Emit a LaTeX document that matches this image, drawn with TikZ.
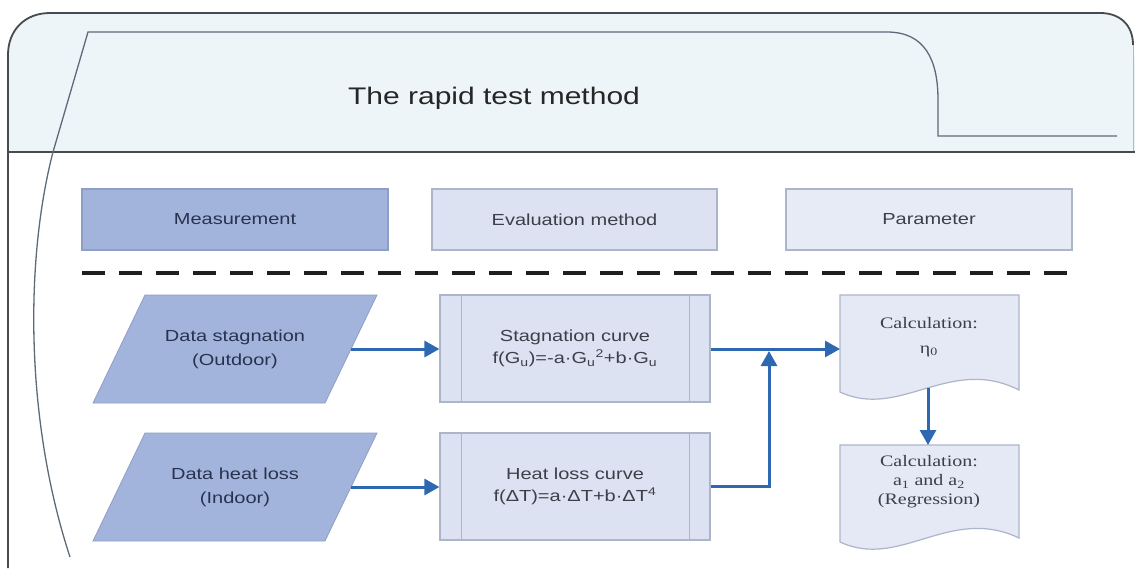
\documentclass[tikz,border=0pt]{standalone}
\usepackage{fontspec}
\setmainfont{Liberation Sans}
\newfontfamily\seriff{Liberation Serif}
\usepackage{graphicx}
\usetikzlibrary{arrows.meta}
\definecolor{hdr}{HTML}{EDF5F9}
\definecolor{framec}{HTML}{464B50}
\definecolor{tabc}{HTML}{5D6A78}
\definecolor{darkfill}{HTML}{A3B4DC}
\definecolor{darkborder}{HTML}{8E9EC6}
\definecolor{evalfill}{HTML}{DDE2F2}
\definecolor{evalborder}{HTML}{ADB5C9}
\definecolor{parfill}{HTML}{E7EBF6}
\definecolor{docfill}{HTML}{E4E9F5}
\definecolor{arrowc}{HTML}{2D68B0}
\definecolor{navytext}{HTML}{27324F}
\definecolor{graytext}{HTML}{3C3F48}
\newcommand{\hs}[1]{\scalebox{1.25}[1]{#1}}
\begin{document}
\begin{tikzpicture}[x=1pt,y=-1pt,
  frame/.style={draw=framec, line width=1.8pt},
  tabline/.style={draw=tabc, line width=1.3pt},
  legend/.style={rectangle, inner sep=0pt, minimum height=61pt, line width=1.2pt, font=\fontsize{16}{20}\selectfont},
  meas/.style={legend, fill=darkfill, draw=darkborder, text=navytext, minimum width=306pt},
  evalbox/.style={legend, fill=evalfill, draw=evalborder, text=graytext, minimum width=285pt},
  parbox/.style={legend, fill=parfill, draw=evalborder, text=graytext, minimum width=286pt},
  datashape/.style={fill=darkfill, draw=darkborder, line width=0.8pt},
  datatext/.style={inner sep=0pt, text=navytext, font=\fontsize{16}{24}\selectfont},
  procbox/.style={rectangle, inner sep=0pt, fill=evalfill, draw=evalborder, line width=1.2pt, minimum width=270pt, minimum height=107pt, text=graytext, font=\fontsize{16}{22}\selectfont},
  docshape/.style={fill=docfill, draw=evalborder, line width=1.2pt},
  doctext/.style={inner sep=0pt, text=graytext},
  arr/.style={draw=arrowc, line width=3pt, -{Triangle[length=15pt,width=16pt]}}
]
\useasboundingbox (0,0) rectangle (1135,568);
\fill[white] (0,0) rectangle (1135,568);
% header
\fill[hdr] (8,152) -- (8,55) .. controls (8,30) and (25,13) .. (50,13) -- (1100,13) .. controls (1120,13) and (1133,25) .. (1133,45) -- (1135,60) -- (1135,152) -- cycle;
\draw[frame] (8,568) -- (8,55) .. controls (8,30) and (25,13) .. (50,13) -- (1100,13) .. controls (1120,13) and (1133,25) .. (1133,45);
\draw[framec!40, line width=1pt] (1133,45) -- (1133,152);
\draw[frame] (8,152) -- (1135,152);
\draw[tabline] (1117,136) -- (938,136) -- (938,100) .. controls (938,60) and (925,32) .. (887,32) -- (88,32) -- (53,152) .. controls (25,260) and (25,420) .. (70,557);
\node[inner sep=0pt, text=black!85, font=\fontsize{24}{28}\selectfont] (title) at (494,98) {\hs{The rapid test method}};
% legend
\node[meas] (m) at (235,219.5) {\hs{Measurement}};
\node[evalbox] (e) at (574.5,219.5) {\hs{Evaluation method}};
\node[parbox] (pp) at (929,219.5) {\hs{Parameter}};
\draw[black!88, line width=3.2pt, dash pattern=on 23pt off 14pt] (82,273) -- (1078,273);
% data parallelograms
\draw[datashape] (145,295) -- (377,295) -- (325,403) -- (93,403) -- cycle;
\node[datatext] (p1) at (235,349) {\hs{\begin{tabular}{@{}c@{}}Data stagnation\\(Outdoor)\end{tabular}}};
\coordinate (p1e) at (351,349);
\draw[datashape] (145,433) -- (377,433) -- (325,541) -- (93,541) -- cycle;
\node[datatext] (p2) at (235,487) {\hs{\begin{tabular}{@{}c@{}}Data heat loss\\(Indoor)\end{tabular}}};
\coordinate (p2e) at (351,487);
% process boxes
\node[procbox] (s1) at (575,348.5) {\hs{\begin{tabular}{@{}c@{}}Stagnation curve\\f(G\textsubscript{u})=-a·G\textsubscript{u}\textsuperscript{2}+b·G\textsubscript{u}\end{tabular}}};
\draw[evalborder, line width=1.2pt] ([xshift=22pt]s1.north west) -- ([xshift=22pt]s1.south west);
\draw[evalborder, line width=1.2pt] ([xshift=-21pt]s1.north east) -- ([xshift=-21pt]s1.south east);
\node[procbox] (h1) at (575,486.5) {\hs{\begin{tabular}{@{}c@{}}Heat loss curve\\f(ΔT)=a·ΔT+b·ΔT\textsuperscript{4}\end{tabular}}};
\draw[evalborder, line width=1.2pt] ([xshift=22pt]h1.north west) -- ([xshift=22pt]h1.south west);
\draw[evalborder, line width=1.2pt] ([xshift=-21pt]h1.north east) -- ([xshift=-21pt]h1.south east);
% documents
\draw[docshape] (840,295) -- (1019,295) -- (1019,390) .. controls (950,355) and (900,420) .. (840,392) -- cycle;
\node[doctext, font=\seriff\fontsize{16}{25}\selectfont] (d1) at (929,335.5) {\hs{\begin{tabular}{@{}c@{}}Calculation:\\η\textsubscript{0}\end{tabular}}};
\coordinate (d1w) at (840,349);
\coordinate (d1b) at (928,388);
\draw[docshape] (840,445) -- (1019,445) -- (1019,538) .. controls (950,505) and (900,570) .. (840,542) -- cycle;
\node[doctext, font=\seriff\fontsize{16}{19}\selectfont] (d2) at (929,482) {\hs{\begin{tabular}{@{}c@{}}Calculation:\\a\textsubscript{1} and a\textsubscript{2}\\(Regression)\end{tabular}}};
\coordinate (d2t) at (928,445);
\coordinate (j) at (769,351);
% connectors
\draw[arr] (p1e) -- (p1e -| s1.west);
\draw[arr] (p2e) -- (p2e -| h1.west);
\draw[arr] (s1.east |- d1w) -- (d1w);
\draw[arr] (h1.east) -| (j);
\draw[arr] (d1b) -- (d2t);
\end{tikzpicture}
\end{document}
